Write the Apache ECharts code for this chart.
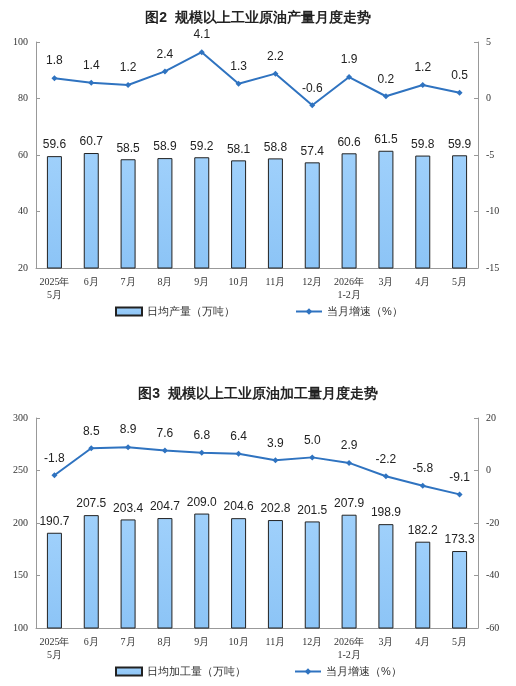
<!DOCTYPE html><html><head><meta charset="utf-8"><script src="https://cdn.jsdelivr.net/npm/echarts@6/dist/echarts.min.js"></script></head><body style="margin:0"><div id="c" style="width:516px;height:686px"></div><script>
const categories=['2025年\n5月','6月','7月','8月','9月','10月','11月','12月','2026年\n1-2月','3月','4月','5月'];
const crudeOutput=[59.6,60.7,58.5,58.9,59.2,58.1,58.8,57.4,60.6,61.5,59.8,59.9];
const crudeGrowth=[1.8,1.4,1.2,2.4,4.1,1.3,2.2,-0.6,1.9,0.2,1.2,0.5];
const refineOutput=[190.7,207.5,203.4,204.7,209.0,204.6,202.8,201.5,207.9,198.9,182.2,173.3];
const refineGrowth=[-1.8,8.5,8.9,7.6,6.8,6.4,3.9,5.0,2.9,-2.2,-5.8,-9.1];
const c=echarts.init(document.getElementById('c'));
const axL={color:'#333',fontFamily:'Liberation Serif',fontSize:10};
const line={show:true,onZero:false,lineStyle:{color:'#999'}};
const barS={type:'linear',x:0,y:0,x2:0,y2:1,colorStops:[{offset:0,color:'#9fd0fb'},{offset:1,color:'#8cc4f6'}]};
function xa(g){return {type:'category',gridIndex:g,data:categories,axisLine:line,axisTick:{show:false},axisLabel:{...axL,interval:0,lineHeight:13}};}
function ya(g,min,max,int,right){return {type:'value',gridIndex:g,min,max,interval:int,position:right?'right':'left',axisLine:line,axisTick:{show:true,inside:true,length:4,lineStyle:{color:'#999'}},splitLine:{show:false},axisLabel:{...axL,fontSize:10}};}
const lbl={show:true,position:'top',fontSize:12,color:'#222',fontFamily:'Liberation Sans',formatter:p=>p.value.toFixed(1)};
c.setOption({animation:false,
title:[{text:'图2  规模以上工业原油产量月度走势',left:'center',top:6,textStyle:{fontSize:14,fontWeight:'bold',color:'#222'}},
{text:'图3  规模以上工业原油加工量月度走势',left:'center',top:382,textStyle:{fontSize:14,fontWeight:'bold',color:'#222'}}],
legend:[{top:301,left:110,itemGap:60,itemWidth:26,itemHeight:8,textStyle:{fontSize:11,color:'#333'},data:[{name:'日均产量（万吨）',icon:'rect'},'当月增速（%）']},
{top:661,left:110,itemGap:48,itemWidth:26,itemHeight:8,textStyle:{fontSize:11,color:'#333'},data:[{name:'日均加工量（万吨）',icon:'rect'},{name:'当月增速（%） ',}]}],
grid:[{left:36,right:38,top:42,bottom:418},{left:36,right:38,top:418,bottom:58}],
xAxis:[xa(0),xa(1)],
yAxis:[ya(0,20,100,20,false),ya(0,-15,5,5,true),ya(1,100,300,50,false),ya(1,-60,20,20,true)],
series:[
{name:'日均产量（万吨）',type:'bar',xAxisIndex:0,yAxisIndex:0,data:crudeOutput,barWidth:15,itemStyle:{color:barS,borderColor:'#222',borderWidth:1},label:lbl},
{name:'当月增速（%）',type:'line',xAxisIndex:0,yAxisIndex:1,data:crudeGrowth,symbol:'diamond',symbolSize:6,itemStyle:{color:'#2f73c0'},lineStyle:{width:2,color:'#2f73c0'},label:{...lbl,distance:8}},
{name:'日均加工量（万吨）',type:'bar',xAxisIndex:1,yAxisIndex:2,data:refineOutput,barWidth:15,itemStyle:{color:barS,borderColor:'#222',borderWidth:1},label:lbl},
{name:'当月增速（%） ',type:'line',xAxisIndex:1,yAxisIndex:3,data:refineGrowth,symbol:'diamond',symbolSize:6,itemStyle:{color:'#2f73c0'},lineStyle:{width:2,color:'#2f73c0'},label:{...lbl,distance:8}}
]});
</script></body></html>
